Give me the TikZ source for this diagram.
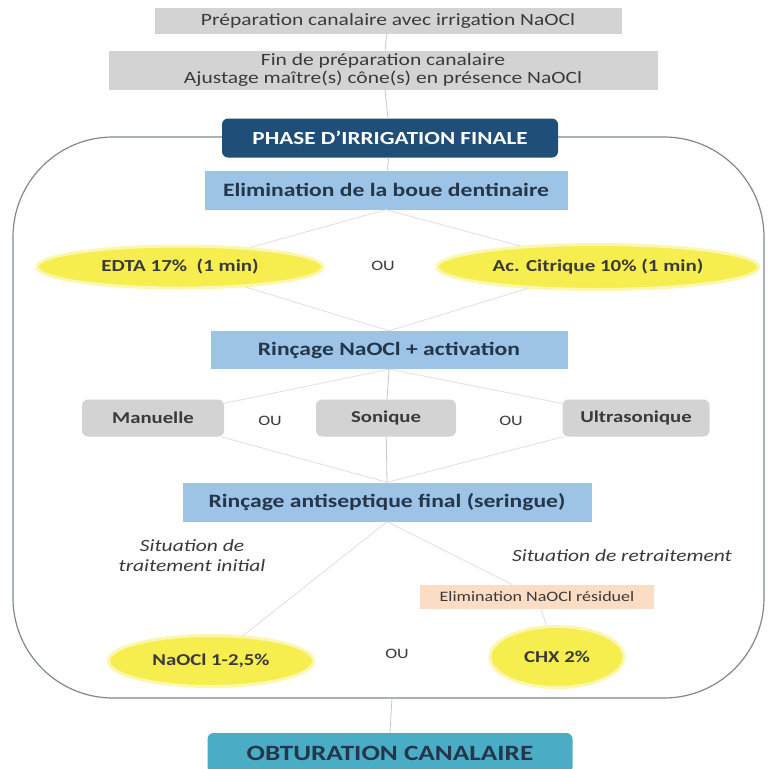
\documentclass[tikz,border=0pt]{standalone}
\usepackage{fontspec}
\setmainfont{Carlito}[FakeStretch=1.25]
\usetikzlibrary{shapes.geometric}
\definecolor{boxgray}{HTML}{D3D3D3}
\definecolor{navy}{HTML}{1F4E79}
\definecolor{lblue}{HTML}{9DC3E6}
\definecolor{yel}{HTML}{F6EE4E}
\definecolor{teal}{HTML}{4BACC6}
\definecolor{peach}{HTML}{FBDCC4}
\definecolor{framec}{HTML}{7F8894}
\definecolor{txt}{HTML}{3A3A3A}
\definecolor{btxt}{HTML}{24364A}
\definecolor{conn}{HTML}{C8C8C8}
\definecolor{connl}{HTML}{EADCDC}
\begin{document}
\begin{tikzpicture}[x=1pt,y=-1pt,
  graybox/.style={fill=boxgray,minimum height=26pt,inner sep=0pt,text=txt,font=\fontsize{17.2}{18}\selectfont,align=center},
  bluebox/.style={fill=lblue,minimum height=39pt,inner sep=0pt,text=btxt,font=\fontsize{18.9}{20}\selectfont\bfseries},
  yelell/.style={ellipse,fill=yel,draw=yel!45,line width=3pt,inner sep=0pt,text=txt,font=\fontsize{16.8}{18}\selectfont\bfseries},
  optbox/.style={fill=boxgray,rounded corners=6pt,minimum height=37pt,inner sep=0pt,text=txt,font=\fontsize{16.6}{19}\selectfont\bfseries},
  outxt/.style={text=txt,font=\fontsize{14.4}{16}\selectfont},
  sittxt/.style={text=txt,font=\fontsize{17.2}{20}\selectfont\itshape,align=center},
  vline/.style={draw=conn,line width=0.8pt},
  dline/.style={draw=connl,line width=0.8pt}]
\useasboundingbox (0,0) rectangle (772,769);
\fill[white] (0,0) rectangle (772,769);
% frame
\draw[framec,line width=1.2pt,rounded corners=100pt] (13,137) rectangle (764,698);
\coordinate (fb) at (392,698);
% nodes
\node[graybox,minimum width=467pt] (b1) at (388,21) {Préparation canalaire avec irrigation NaOCl};
\node[graybox,minimum width=549pt,minimum height=39pt] (b2) at (383,70) {Fin de préparation canalaire\\Ajustage maître(s) cône(s) en présence NaOCl};
\node[fill=navy,rounded corners=6pt,minimum width=336pt,minimum height=39pt,inner sep=0pt,text=white,font=\fontsize{18.5}{20}\selectfont\bfseries] (phase) at (390,138) {PHASE D’IRRIGATION FINALE};
\node[bluebox,minimum width=363pt] (elim) at (386,190) {Elimination de la boue dentinaire};
\node[yelell,minimum width=286pt,minimum height=42pt] (edta) at (180,267) {EDTA 17\%\ \ (1 min)};
\node[outxt] (ou1) at (383,266) {OU};
\node[yelell,minimum width=322pt,minimum height=45pt] (citr) at (598,267) {Ac. Citrique 10\% (1 min)};
\node[bluebox,minimum width=357pt,minimum height=38pt] (rinc) at (389,350) {Rinçage NaOCl + activation};
\node[optbox,minimum width=142pt] (man) at (153,418) {Manuelle};
\node[outxt] (ou2) at (270,421) {OU};
\node[optbox,minimum width=140pt] (son) at (386,418) {Sonique};
\node[outxt] (ou3) at (511,421) {OU};
\node[optbox,minimum width=147pt] (ultra) at (636,418) {Ultrasonique};
\node[bluebox,minimum width=409pt] (anti) at (387,502) {Rinçage antiseptique final (seringue)};
\node[sittxt] (sit1) at (192,556) {Situation de\\traitement initial};
\node[sittxt] (sit2) at (622,556) {Situation de retraitement};
\node[fill=peach,minimum width=234pt,minimum height=24pt,inner sep=0pt,text=txt,font=\fontsize{14.4}{16}\selectfont] (elimN) at (537,597) {Elimination NaOCl résiduel};
\node[yelell,minimum width=205pt,minimum height=51pt,font=\fontsize{16.6}{19}\selectfont\bfseries] (naocl) at (211,661) {NaOCl 1-2,5\%};
\node[outxt] (ou4) at (397,654) {OU};
\node[yelell,minimum width=134pt,minimum height=61pt,font=\fontsize{16.6}{19}\selectfont\bfseries] (chx) at (557,657) {CHX 2\%};
\node[fill=teal,rounded corners=6pt,minimum width=365pt,minimum height=40pt,inner sep=0pt,text=btxt,font=\fontsize{21.8}{24}\selectfont\bfseries] (obt) at (390,753) {OBTURATION CANALAIRE};
% connectors
\draw[vline] (b1) -- (b2);
\draw[vline] (b2) -- (phase);
\draw[vline] (phase) -- (elim);
\draw[dline] (elim.south) -- (edta);
\draw[dline] (elim.south) -- (citr);
\draw[dline] (edta) -- (rinc.north);
\draw[dline] (citr) -- (rinc.north);
\draw[dline] (rinc.south) -- (man);
\draw[vline] (rinc.south) -- (son);
\draw[dline] (rinc.south) -- (ultra);
\draw[dline] (man) -- (anti.north);
\draw[vline] (son) -- (anti.north);
\draw[dline] (ultra) -- (anti.north);
\draw[dline] (anti.south) -- (naocl);
\draw[dline] (anti.south) -- (elimN);
\draw[dline] (elimN) -- (chx);
\draw[vline] (fb) -- (obt.north);
\end{tikzpicture}
\end{document}
